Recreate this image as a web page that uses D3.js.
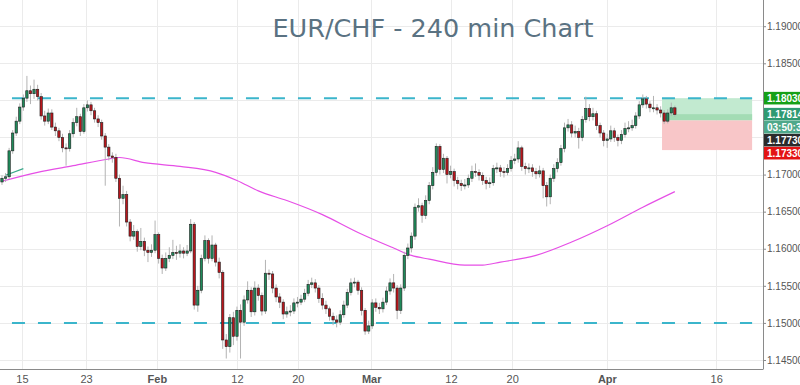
<!DOCTYPE html>
<html>
<head>
<meta charset="utf-8">
<script src="https://cdn.jsdelivr.net/npm/d3@7"></script>
<style>
    body { margin: 0; background: #fff; }
    svg { display: block; }
</style>
</head>
<body>
<script>
// 8h bars, open of each bar = previous close
var firstOpen = 1.1690;
var close = [
    1.1695,1.1697,1.1732,1.1756,1.1772,1.1791,1.1803,1.1813,1.1809,1.1815,
    1.1805,1.1779,1.1772,1.1783,1.1764,1.1759,1.1750,1.1736,1.1735,1.1755,
    1.1770,1.1778,1.1758,1.1790,1.1794,1.1786,1.1775,1.1770,1.1752,1.1737,
    1.1725,1.1723,1.1695,1.1668,1.1673,1.1636,1.1617,1.1623,1.1603,1.1610,
    1.1598,1.1595,1.1598,1.1619,1.1587,1.1574,1.1587,1.1591,1.1595,1.1594,
    1.1597,1.1594,1.1597,1.1633,1.1524,1.1544,1.1587,1.1611,1.1587,1.1605,
    1.1582,1.1568,1.1477,1.1468,1.1507,1.1482,1.1517,1.1501,1.1531,1.1544,
    1.1515,1.1547,1.1537,1.1516,1.1567,1.1566,1.1547,1.1535,1.1528,1.1512,
    1.1515,1.1516,1.1527,1.1528,1.1532,1.1540,1.1552,1.1554,1.1547,1.1533,
    1.1524,1.1519,1.1509,1.1504,1.1501,1.1511,1.1524,1.1541,1.1554,1.1555,
    1.1544,1.1517,1.1489,1.1496,1.1527,1.1521,1.1519,1.1528,1.1543,1.1554,
    1.1547,1.1517,1.1547,1.1591,1.1601,1.1617,1.1656,1.1658,1.1645,1.1665,
    1.1685,1.1703,1.1738,1.1707,1.1722,1.1700,1.1704,1.1692,1.1688,1.1685,
    1.1686,1.1695,1.1704,1.1703,1.1699,1.1692,1.1688,1.1689,1.1708,1.1709,
    1.1704,1.1703,1.1708,1.1719,1.1721,1.1736,1.1711,1.1708,1.1709,1.1704,
    1.1701,1.1705,1.1685,1.1670,1.1695,1.1708,1.1716,1.1735,1.1763,1.1767,
    1.1756,1.1758,1.1750,1.1774,1.1789,1.1778,1.1782,1.1766,1.1756,1.1746,
    1.1748,1.1759,1.1750,1.1746,1.1754,1.1762,1.1763,1.1766,1.1779,1.1794,
    1.1802,1.1795,1.1790,1.1790,1.1787,1.1783,1.1772,1.1783,1.1790,1.1781
];
var high = [
    1.1699,1.1702,1.1736,1.1760,1.1778,1.1796,1.1808,1.1833,1.1820,1.1828,
    1.1821,1.1810,1.1786,1.1789,1.1788,1.1770,1.1763,1.1755,1.1742,1.1760,
    1.1776,1.1790,1.1782,1.1795,1.1800,1.1798,1.1790,1.1780,1.1774,1.1756,
    1.1741,1.1730,1.1728,1.1700,1.1685,1.1678,1.1640,1.1632,1.1626,1.1628,
    1.1615,1.1603,1.1606,1.1638,1.1622,1.1592,1.1595,1.1602,1.1612,1.1604,
    1.1606,1.1602,1.1605,1.1640,1.1636,1.1550,1.1592,1.1618,1.1614,1.1618,
    1.1608,1.1588,1.1571,1.1485,1.1512,1.1515,1.1522,1.1525,1.1537,1.1556,
    1.1548,1.1556,1.1552,1.1541,1.1585,1.1572,1.1570,1.1552,1.1540,1.1532,
    1.1522,1.1524,1.1533,1.1535,1.1538,1.1546,1.1558,1.1561,1.1559,1.1551,
    1.1540,1.1530,1.1522,1.1514,1.1510,1.1517,1.1530,1.1546,1.1560,1.1561,
    1.1558,1.1548,1.1520,1.1503,1.1532,1.1533,1.1527,1.1534,1.1549,1.1560,
    1.1566,1.1551,1.1552,1.1596,1.1607,1.1622,1.1661,1.1668,1.1662,1.1672,
    1.1690,1.1710,1.1742,1.1741,1.1728,1.1725,1.1712,1.1708,1.1697,1.1693,
    1.1694,1.1700,1.1712,1.1715,1.1707,1.1703,1.1697,1.1696,1.1713,1.1716,
    1.1713,1.1710,1.1714,1.1725,1.1728,1.1745,1.1739,1.1716,1.1715,1.1714,
    1.1709,1.1712,1.1709,1.1690,1.1700,1.1714,1.1722,1.1740,1.1770,1.1775,
    1.1772,1.1766,1.1763,1.1779,1.1805,1.1795,1.1790,1.1786,1.1770,1.1760,
    1.1755,1.1766,1.1763,1.1754,1.1760,1.1770,1.1772,1.1774,1.1784,1.1799,
    1.1808,1.1806,1.1799,1.1806,1.1795,1.1792,1.1787,1.1788,1.1797,1.1793
];
var low = [
    1.1686,1.1690,1.1694,1.1728,1.1752,1.1768,1.1786,1.1798,1.1795,1.1802,
    1.1800,1.1774,1.1766,1.1768,1.1760,1.1752,1.1745,1.1730,1.1712,1.1731,
    1.1750,1.1765,1.1752,1.1755,1.1785,1.1780,1.1770,1.1764,1.1747,1.1685,
    1.1719,1.1716,1.1690,1.1630,1.1660,1.1630,1.1610,1.1612,1.1596,1.1598,
    1.1590,1.1582,1.1589,1.1594,1.1580,1.1566,1.1570,1.1582,1.1586,1.1585,
    1.1588,1.1587,1.1590,1.1594,1.1518,1.1515,1.1540,1.1583,1.1580,1.1583,
    1.1576,1.1560,1.1465,1.1452,1.1460,1.1470,1.1476,1.1452,1.1496,1.1526,
    1.1508,1.1510,1.1530,1.1510,1.1512,1.1558,1.1540,1.1528,1.1520,1.1505,
    1.1507,1.1509,1.1512,1.1521,1.1524,1.1528,1.1536,1.1547,1.1541,1.1527,
    1.1518,1.1512,1.1503,1.1497,1.1494,1.1497,1.1507,1.1520,1.1537,1.1548,
    1.1538,1.1510,1.1484,1.1485,1.1492,1.1515,1.1512,1.1514,1.1524,1.1538,
    1.1541,1.1505,1.1512,1.1543,1.1586,1.1595,1.1612,1.1650,1.1635,1.1640,
    1.1660,1.1680,1.1698,1.1700,1.1702,1.1688,1.1695,1.1684,1.1680,1.1678,
    1.1680,1.1682,1.1690,1.1697,1.1692,1.1686,1.1680,1.1682,1.1685,1.1702,
    1.1697,1.1696,1.1699,1.1704,1.1714,1.1716,1.1705,1.1700,1.1702,1.1697,
    1.1694,1.1696,1.1668,1.1657,1.1660,1.1690,1.1703,1.1712,1.1730,1.1758,
    1.1750,1.1750,1.1735,1.1745,1.1770,1.1772,1.1773,1.1760,1.1750,1.1738,
    1.1736,1.1744,1.1744,1.1738,1.1741,1.1750,1.1757,1.1759,1.1762,1.1775,
    1.1790,1.1789,1.1784,1.1784,1.1781,1.1777,1.1768,1.1769,1.1779,1.1778
];

// moving averages, sampled at bar indices
var maIdx = [0, 10, 20, 30, 33, 40, 50, 60, 66, 72, 80, 90, 100, 110, 115, 120, 130, 135, 140, 150, 160, 170, 180, 189];
var maVal = [1.1691, 1.1703, 1.1712, 1.1721, 1.1723, 1.1716, 1.1711, 1.1703, 1.1692, 1.1678, 1.1665, 1.1646, 1.1622, 1.1601, 1.1591, 1.1586, 1.1578, 1.1578, 1.1582, 1.1591, 1.1609, 1.1631, 1.1656, 1.1677];
var ma2Idx = [1, 6];
var ma2Val = [1.1699, 1.1708];

var xTickIdx = [5.6, 23.6, 43.5, 66.0, 83.1, 103.7, 126.1, 143.3, 169.9, 200.6];
var xTickLabels = ['15', '23', 'Feb', '12', '20', 'Mar', '12', '20', 'Apr', '16'];
var yTicks = [1.145, 1.150, 1.155, 1.160, 1.165, 1.170, 1.175, 1.180, 1.185, 1.190];
// labels hidden behind the price tags
var yHidden = [1.175, 1.180];

var levels = [1.1803, 1.1500];
var levelFrom = 2.8, levelTo = 210.7;
var trade = { from: 185.4, to: 210.7, target: 1.1803, entry: 1.1773, stop: 1.1733, last: 1.17814 };
var priceTags = [
    { v: 1.1803, text: '1.18030', color: '#16a016' },
    { v: 1.17814, text: '1.17814', color: '#2f9a72' },
    { v: 1.17814, text: '03:50:38', color: '#4fa88a' },
    { v: 1.1773, text: '1.17730', color: '#2b2b2b' },
    { v: 1.1733, text: '1.17330', color: '#e31414' }
];

var width = 800, height = 385;
var plotW = 763, plotH = 369;

var x = d3.scaleLinear().domain([-0.56, 213.76]).range([0, plotW]);
var y = d3.scaleLinear().domain([1.145, 1.185]).range([360, 63.3]);

var bars = close.map(function(c, i) {
    return { i: i, o: i ? close[i - 1] : firstOpen, h: high[i], l: low[i], c: c };
});

var svg = d3.select('body').append('svg')
    .attr('width', width)
    .attr('height', height)
    .style('font-family', '"Liberation Sans", Arial, sans-serif');

svg.append('defs').append('clipPath').attr('id', 'plot')
    .append('rect').attr('width', plotW).attr('height', plotH);

// grid
svg.append('g').selectAll('line').data(yTicks).join('line')
    .attr('x1', 0).attr('x2', plotW)
    .attr('y1', d => Math.round(y(d)) + 0.5).attr('y2', d => Math.round(y(d)) + 0.5)
    .attr('stroke', '#ebebeb');
svg.append('g').selectAll('line').data(xTickIdx).join('line')
    .attr('x1', d => Math.round(x(d)) + 0.5).attr('x2', d => Math.round(x(d)) + 0.5)
    .attr('y1', 0).attr('y2', plotH)
    .attr('stroke', '#ebebeb');

// title
svg.append('text')
    .attr('x', 433).attr('y', 37)
    .attr('text-anchor', 'middle')
    .style('font-family', '"DejaVu Sans", Verdana, sans-serif')
    .style('font-size', '25.5px')
    .attr('fill', '#5a7282')
    .text('EUR/CHF - 240 min Chart');

var plot = svg.append('g').attr('clip-path', 'url(#plot)');

// trade box
plot.append('rect')
    .attr('x', x(trade.from)).attr('width', x(trade.to) - x(trade.from))
    .attr('y', y(trade.target)).attr('height', y(trade.entry) - y(trade.target))
    .attr('fill', '#c2ead0');
plot.append('rect')
    .attr('x', x(trade.from)).attr('width', x(trade.to) - x(trade.from))
    .attr('y', y(trade.last)).attr('height', y(trade.entry) - y(trade.last))
    .attr('fill', '#a3dcb4');
plot.append('rect')
    .attr('x', x(trade.from)).attr('width', x(trade.to) - x(trade.from))
    .attr('y', y(trade.entry)).attr('height', y(trade.stop) - y(trade.entry))
    .attr('fill', '#f8c6c8');

// dashed levels
plot.append('g').selectAll('line').data(levels).join('line')
    .attr('x1', x(levelFrom)).attr('x2', x(levelTo))
    .attr('y1', d => y(d)).attr('y2', d => y(d))
    .attr('stroke', '#3bb5cb')
    .attr('stroke-width', 2)
    .attr('stroke-dasharray', '13,13');

// moving averages
var line = d3.line().x(d => x(d[0])).y(d => y(d[1])).curve(d3.curveMonotoneX);
plot.append('path')
    .datum(d3.zip(maIdx, maVal))
    .attr('d', line)
    .attr('fill', 'none')
    .attr('stroke', '#e64fe6')
    .attr('stroke-width', 1.2);
plot.append('path')
    .datum(d3.zip(ma2Idx, ma2Val))
    .attr('d', line)
    .attr('fill', 'none')
    .attr('stroke', '#3aa88a')
    .attr('stroke-width', 1.2);

// candles
var bw = (x(1) - x(0)) * 0.66;
var cell = plot.append('g').selectAll('g').data(bars).join('g');
cell.append('line')
    .attr('x1', d => x(d.i)).attr('x2', d => x(d.i))
    .attr('y1', d => y(d.h)).attr('y2', d => y(d.l))
    .attr('stroke', '#b3b3b3')
    .attr('stroke-width', 1);
cell.append('rect')
    .attr('x', d => x(d.i) - bw / 2)
    .attr('width', bw)
    .attr('y', d => y(Math.max(d.o, d.c)))
    .attr('height', d => Math.max(1, Math.abs(y(d.o) - y(d.c))))
    .attr('fill', d => d.c >= d.o ? '#1f8a5a' : '#b8161c')
    .attr('stroke', '#1e1e1e')
    .attr('stroke-width', 0.6);

// axes
var yAxis = svg.append('g')
    .attr('transform', `translate(${plotW},0)`)
    .call(d3.axisRight(y).tickValues(yTicks).tickSize(3).tickSizeOuter(0).tickFormat(d3.format('.5f')));
yAxis.select('.domain').attr('d', `M0.5,0V${plotH}`).attr('stroke', '#8a8a8a');
yAxis.selectAll('.tick line').attr('stroke', '#8a8a8a');
yAxis.selectAll('.tick text')
    .attr('x', 4).attr('fill', '#555')
    .style('font-size', '10px')
    .style('font-family', '"Liberation Sans", Arial, sans-serif')
    .filter(d => yHidden.indexOf(d) >= 0).remove();

var xAxis = svg.append('g')
    .attr('transform', `translate(0,${plotH})`)
    .call(d3.axisBottom(x).tickValues(xTickIdx).tickSize(0).tickPadding(6).tickFormat((d, i) => xTickLabels[i]));
xAxis.select('.domain').attr('d', `M0,0.5H${plotW + 0.5}`).attr('stroke', '#8a8a8a');
xAxis.selectAll('.tick text')
    .attr('fill', '#555')
    .style('font-size', '11px')
    .style('font-family', '"Liberation Sans", Arial, sans-serif')
    .style('font-weight', (d, i) => isNaN(+xTickLabels[i]) ? 'bold' : 'normal');

// price tags on the right scale, pushed down so they don't overlap
var tagH = 12.6;
var prev = -100;
priceTags.forEach(function(t, k) {
    var cy = y(t.v);
    if (k === 2) cy = prev + tagH + 0.4;
    cy = Math.max(cy, prev + tagH + 0.4);
    prev = cy;
    var g = svg.append('g');
    g.append('rect')
        .attr('x', plotW + 1).attr('y', cy - tagH / 2)
        .attr('width', width - plotW).attr('height', tagH)
        .attr('fill', t.color);
    g.append('text')
        .attr('x', plotW + 4).attr('y', cy).attr('dy', '0.35em')
        .attr('fill', '#fff')
        .style('font-size', '10px')
        .style('font-weight', 'bold')
        .text(t.text);
});
</script>
</body>
</html>
